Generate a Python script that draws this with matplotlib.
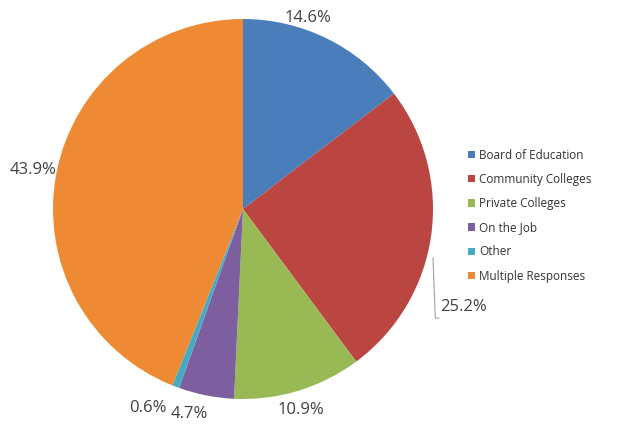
import matplotlib.pyplot as plt
from matplotlib.patches import Patch

categories = ["Board of Education", "Community Colleges", "Private Colleges",
              "On the Job", "Other", "Multiple Responses"]
shares = [14.6, 25.2, 10.9, 4.7, 0.6, 43.9]
colors = ["#4A7EBB", "#BB4541", "#98B954", "#7D5FA0", "#46AAC4", "#EE8A33"]

# label positions in axes data units (pie radius = 1)
label_pos = [(0.34, 1.005), (1.035, -0.516), (0.305, -1.058),
             (-0.28, -1.079), (-0.50, -1.047), (-1.105, 0.205)]

plt.rcParams['font.family'] = ['Open Sans', 'DejaVu Sans']

fig = plt.figure(figsize=(6.33, 4.29), dpi=100)
ax = fig.add_axes([53 / 633, 30 / 429, 380 / 633, 380 / 429])

wedges, _ = ax.pie(shares, colors=colors, startangle=90, counterclock=False,
                   radius=1, center=(0, 0), frame=False,
                   wedgeprops=dict(linewidth=0))
ax.set_xlim(-1, 1)
ax.set_ylim(-1, 1)
ax.set_aspect('auto')
ax.axis('off')

for i, (val, (x, y)) in enumerate(zip(shares, label_pos)):
    ha = 'left' if i == 1 else 'center'
    ax.text(x, y, f"{val}%", ha=ha, va='center', fontsize=12,
            color='#404040', clip_on=False)

# leader line for the Community Colleges label
ax.plot([1.0, 1.012, 1.03], [-0.258, -0.574, -0.574],
        color='#a0a0a0', lw=0.8, clip_on=False)

handles = [Patch(facecolor=c, edgecolor='none') for c in colors]
fig.legend(handles, categories, loc='upper left',
           bbox_to_anchor=(457 / 633, 1 - 138 / 429), frameon=False,
           fontsize=8.5, handlelength=0.6, handleheight=0.6,
           handletextpad=0.4, labelspacing=0.95, labelcolor='#333333')

fig.savefig("out.png", dpi=100)
